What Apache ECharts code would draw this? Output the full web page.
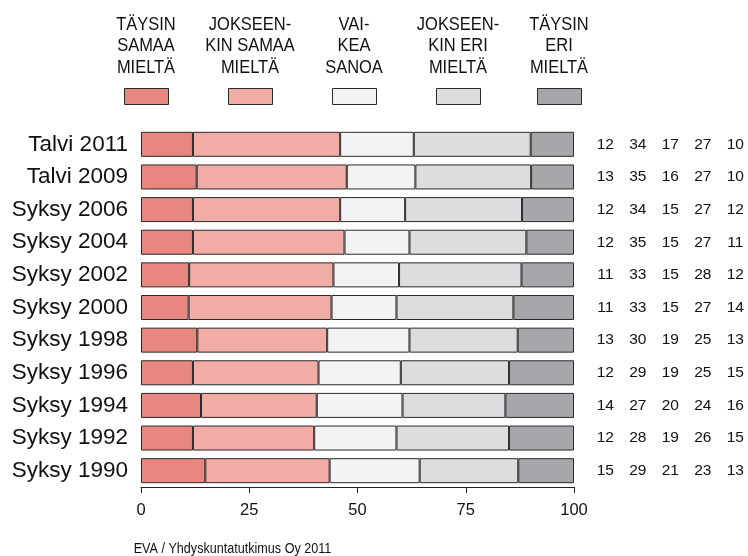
<!DOCTYPE html>
<html>
<head>
<meta charset="utf-8">
<script src="https://cdn.jsdelivr.net/npm/echarts@6/dist/echarts.min.js"></script>
<style>html,body{margin:0;padding:0;background:#fff}#c{width:748px;height:556px}</style>
</head>
<body>
<div id="c"></div>
<script>
var categories = ["Talvi 2011","Talvi 2009","Syksy 2006","Syksy 2004","Syksy 2002","Syksy 2000","Syksy 1998","Syksy 1996","Syksy 1994","Syksy 1992","Syksy 1990"];
var seriesNames = ["TÄYSIN\nSAMAA\nMIELTÄ","JOKSEEN-\nKIN SAMAA\nMIELTÄ","VAI-\nKEA\nSANOA","JOKSEEN-\nKIN ERI\nMIELTÄ","TÄYSIN\nERI\nMIELTÄ"];
var taysinSamaa   = [12,13,12,12,11,11,13,12,14,12,15];
var jokseenSamaa  = [34,35,34,35,33,33,30,29,27,28,29];
var vaikeaSanoa   = [17,16,15,15,15,15,19,19,20,19,21];
var jokseenEri    = [27,27,27,27,28,27,25,25,24,26,23];
var taysinEri     = [10,10,12,11,12,14,13,15,16,15,13];
var xTicks = [0,25,50,75,100];
var colors = ["#E8877F","#F0ACA5","#F2F3F4","#DCDDDF","#A6A7AB"];
var footer = "EVA / Yhdyskuntatutkimus Oy 2011";

var cols = [taysinSamaa, jokseenSamaa, vaikeaSanoa, jokseenEri, taysinEri];
var sums = categories.map(function(c,i){ return cols.reduce(function(s,a){return s+a[i];},0); });

var chart = echarts.init(document.getElementById('c'), null, {renderer:'canvas'});
var FONT = 'Liberation Sans, Arial, sans-serif';
var legendX = [124,228,332,436,537];

var series = cols.map(function(arr,k){
  return {
    name: seriesNames[k], type:'bar', stack:'total', barWidth:25,
    itemStyle:{color:colors[k], borderColor:'#2a2a2a', borderWidth:1},
    emphasis:{disabled:true},
    data: arr.map(function(v,i){ return v/sums[i]*100; })
  };
});

var legends = seriesNames.map(function(n,k){
  return {
    data:[{name:n, icon:'rect'}], left:legendX[k], top:88, padding:0, itemWidth:44, itemHeight:16,
    selectedMode:false, formatter:function(){return '';},
    itemStyle:{borderColor:'#2a2a2a', borderWidth:1}
  };
});

var graphics = seriesNames.map(function(n,k){
  return {
    type:'text', x:legendX[k]+22, y:14, scaleX:0.94,
    style:{text:n, fill:'#111', font:'17.5px '+FONT, textAlign:'center', textVerticalAlign:'top', lineHeight:21.5}
  };
});
graphics.push({
  type:'text', x:232.5, y:549, scaleX:0.84,
  style:{text:footer, fill:'#111', font:'15px '+FONT, textAlign:'center', textVerticalAlign:'middle'}
});

chart.setOption({
  animation:false,
  textStyle:{fontFamily:FONT},
  legend: legends,
  grid:{left:141, right:174, top:128, bottom:69},
  xAxis:{
    type:'value', min:0, max:100, interval:25,
    axisLine:{show:true, lineStyle:{color:'#222', width:1}},
    axisTick:{show:true, length:6, lineStyle:{color:'#222'}},
    splitLine:{show:false},
    axisLabel:{fontSize:16.5, color:'#111', margin:15,
      formatter:function(v){ return xTicks.indexOf(v)>=0 ? String(v) : ''; }}
  },
  yAxis:[{
    type:'category', inverse:true, data:categories,
    axisLine:{show:false}, axisTick:{show:false},
    axisLabel:{fontSize:22.5, color:'#111', margin:13}
  },{
    type:'category', inverse:true, position:'right', data:categories,
    axisLine:{show:false}, axisTick:{show:false},
    axisLabel:{margin:15, color:'#111', align:'left',
      formatter:function(v,i){
        return cols.map(function(a){ return '{a|'+a[i]+'}'; }).join('');
      },
      rich:{a:{width:32.5, align:'center', fontSize:15.5, color:'#111'}}
    }
  }],
  series: series,
  graphic: graphics
});
</script>
</body>
</html>
